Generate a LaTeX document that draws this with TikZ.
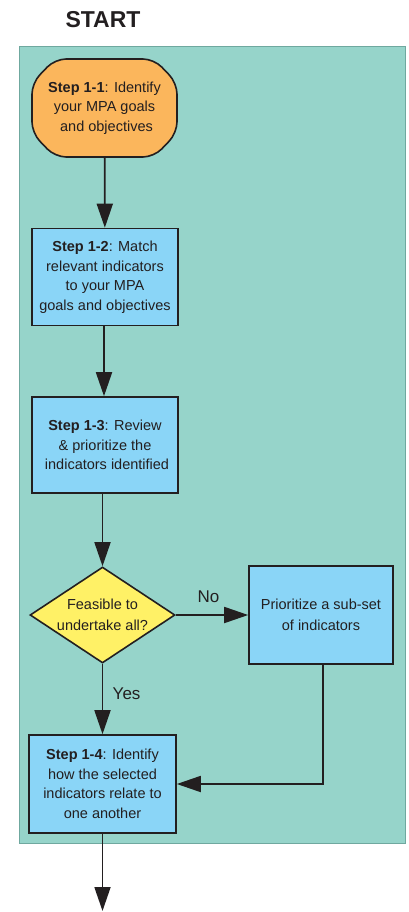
\documentclass[tikz,border=0pt]{standalone}
\usepackage{fontspec}
\setmainfont{Liberation Sans}
\usetikzlibrary{arrows.meta,shapes.geometric}
\definecolor{panel}{HTML}{96D4CA}
\definecolor{panelline}{HTML}{6FA89F}
\definecolor{startorange}{HTML}{FBB65C}
\definecolor{stepblue}{HTML}{8AD5F7}
\definecolor{askyellow}{HTML}{FFF166}
\definecolor{ink}{HTML}{231F20}
\tikzset{
  stepbox/.style={draw=ink, line width=1.6pt, fill=stepblue, align=center, text=ink,
    minimum width=146pt, minimum height=97pt, inner sep=0pt,
    font=\fontsize{14.5}{19.5}\selectfont},
  flow/.style={draw=ink, line width=1.8pt, -{Triangle[length=24pt,width=16pt]}},
  flowlabel/.style={text=ink, font=\fontsize{17}{19}\selectfont}
}
\begin{document}
\begin{tikzpicture}[x=1pt, y=-1pt]
  \useasboundingbox (0,0) rectangle (408,912);
  \draw[panelline, fill=panel, line width=1pt] (19,47) rectangle (405,843);
  \node (start) at (103,20) [font=\bfseries\fontsize{23}{23}\selectfont, text=ink] {START};

  % rounded octagon behind the first step
  \draw[ink, fill=startorange, line width=1.6pt, rounded corners=11pt]
    (104.5,59) -- (154,59) -- (177,83) -- (177,133) -- (154,157) -- (55,157) -- (32,133) -- (32,83) -- (55,59) -- cycle;
  \node (s11) at (104.5,108) [stepbox, draw=none, fill=none, minimum width=145pt, minimum height=98pt] {\textbf{Step 1-1}: Identify \\ your MPA goals \\ \ and objectives};
  \node (s12) at (105,277) [stepbox] {\textbf{Step 1-2}: Match \\ relevant indicators \\ to your MPA \\ goals and objectives};
  \node (s13) at (105,445) [stepbox, minimum height=96pt] {\textbf{Step 1-3}: Review \\ \& prioritize the \\ \ indicators identified};
  \node (ask) at (102.5,615) [draw=ink, line width=1.6pt, fill=askyellow, diamond, aspect=1.5, inner sep=0pt, minimum width=145pt, minimum height=96pt, align=center, text=ink, font=\fontsize{14.5}{20.5}\selectfont] {Feasible to \\ undertake all?};
  \node (sub) at (321,615) [stepbox, minimum width=144pt, minimum height=98pt, font=\fontsize{14.5}{21}\selectfont] {Prioritize a sub-set \\ of indicators};
  \node (s14) at (102.5,784) [stepbox, minimum width=147pt, minimum height=98pt] {\textbf{Step 1-4}: Identify \\ how the selected \\ indicators relate to \\ one another};
  \coordinate (out) at (102.5,911);

  \draw[flow] (s11) -- (s12);
  \draw[flow] (s12.south -| 104,0) -- (s13.north -| 104,0);
  \draw[flow] (s13.south -| ask.north) -- (ask.north);
  \draw[flow] (ask) -- node[above, pos=0.45, yshift=8pt, flowlabel] {No} (sub);
  \draw[flow] (ask) -- node[right, pos=0.42, xshift=6pt, flowlabel] {Yes} (s14);
  \draw[flow] (sub.south -| 323,0) |- (s14.east);
  \draw[flow] (s14) -- (out);
\end{tikzpicture}
\end{document}
